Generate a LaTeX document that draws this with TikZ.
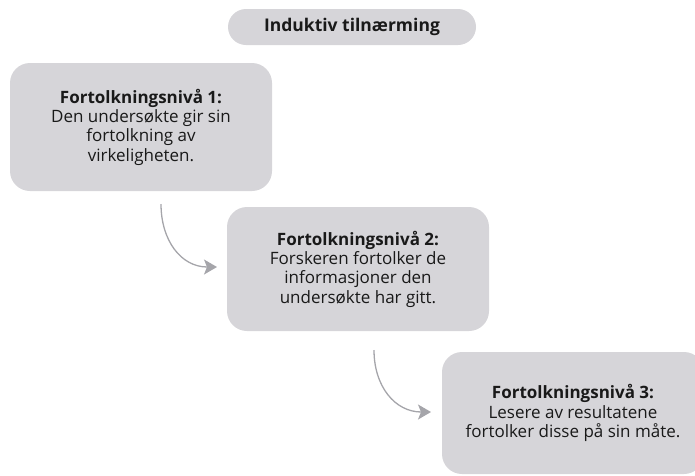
\documentclass[tikz,border=0pt]{standalone}
\usepackage{fontspec}
\setmainfont{Open Sans}
\usetikzlibrary{arrows.meta}
\definecolor{boxgray}{RGB}{214,213,217}
\definecolor{arrowgray}{RGB}{165,165,170}
\definecolor{inkdark}{RGB}{25,25,25}
\tikzset{
  levelbox/.style={fill=boxgray, draw=none, rounded corners=20pt,
    minimum width=262pt, align=center, font=\fontsize{17}{19.3}\selectfont,
    text=inkdark, inner sep=2pt},
  titlepill/.style={fill=boxgray, draw=none, rounded corners=18pt,
    minimum width=248pt, minimum height=36pt, font=\fontsize{17.5}{19}\selectfont\bfseries,
    text=inkdark},
  curvearrow/.style={draw=arrowgray, line width=1.3pt,
    -{Stealth[length=13pt,width=15pt,inset=3pt]}},
}
\begin{document}
\begin{tikzpicture}[x=1pt,y=-1pt]
  \useasboundingbox (0,0) rectangle (695,475);
  \clip (0,0) rectangle (695,475);

  % heading
  \node[titlepill] (title) at (352,27) {Induktiv tilnærming};

  % the three levels of interpretation
  \node[levelbox, minimum height=128pt] (lvl1) at (141,127)
    {\textbf{Fortolkningsnivå 1:}\\Den undersøkte gir sin\\fortolkning av\\virkeligheten.};
  \node[levelbox, minimum height=124pt] (lvl2) at (358,269)
    {\textbf{Fortolkningsnivå 2:}\\Forskeren fortolker de\\informasjoner den\\undersøkte har gitt.};
  \node[levelbox, minimum height=122pt] (lvl3) at (573,413)
    {\textbf{Fortolkningsnivå 3:}\\Lesere av resultatene\\fortolker disse på sin måte.};

  % curved connectors between levels
  \coordinate (a1s) at (161,204);
  \coordinate (a1e) at (217,267);
  \coordinate (a2s) at (374,350);
  \coordinate (a2e) at (431,412);
  \draw[curvearrow] (a1s) to[out=-90,in=180,looseness=1.1] (a1e);
  \draw[curvearrow] (a2s) to[out=-90,in=180,looseness=1.1] (a2e);
\end{tikzpicture}
\end{document}
